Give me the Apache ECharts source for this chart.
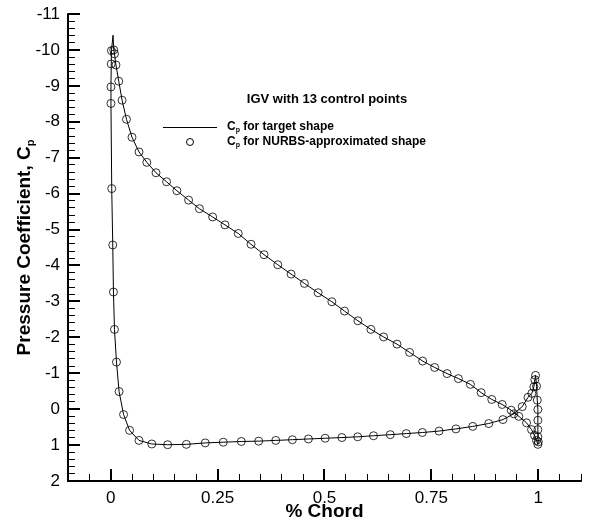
<!DOCTYPE html>
<html>
<head>
<meta charset="utf-8">
<script src="https://cdn.jsdelivr.net/npm/echarts@6/dist/echarts.min.js"></script>
<style>
html, body { margin: 0; padding: 0; background: #fff; }
#main { width: 589px; height: 527px; }
</style>
</head>
<body>
<div id="main"></div>
<script>
var myChart = echarts.init(document.getElementById('main'));

// upper (suction) surface, leading edge -> trailing edge
var upperX = [0.0070, 0.0087, 0.0122, 0.0187, 0.0265, 0.0368, 0.0497, 0.0661, 0.0844, 0.1059,
    0.1305, 0.1547, 0.1821, 0.2074, 0.2383, 0.2672, 0.2983, 0.3281, 0.3586, 0.3907,
    0.4218, 0.4530, 0.4851, 0.5172, 0.5468, 0.5782, 0.6086, 0.6382, 0.6696, 0.6991,
    0.7296, 0.7577, 0.7867, 0.8132, 0.8413, 0.8664, 0.8913, 0.9156, 0.9367, 0.9545,
    0.9726, 0.9843, 0.9913, 0.9960, 0.9991];
var upperCp = [-10.0, -9.89, -9.58, -9.13, -8.60, -8.07, -7.57, -7.16, -6.87, -6.58,
    -6.33, -6.08, -5.82, -5.58, -5.35, -5.13, -4.89, -4.59, -4.30, -4.02,
    -3.76, -3.50, -3.24, -2.99, -2.73, -2.46, -2.22, -2.01, -1.81, -1.58,
    -1.34, -1.16, -0.99, -0.85, -0.69, -0.46, -0.27, -0.13, 0.03, 0.20,
    0.38, 0.57, 0.73, 0.87, 0.98];

// lower (pressure) surface, leading edge -> trailing edge
var lowerX = [0.0016, 0.0012, 0.0005, 0.0005, 0.0023, 0.0047, 0.0063, 0.0087, 0.0134, 0.0195,
    0.0300, 0.0441, 0.0661, 0.0961, 0.1331, 0.1769, 0.2210, 0.2632, 0.3054, 0.3461,
    0.3860, 0.4249, 0.4624, 0.5015, 0.5407, 0.5777, 0.6147, 0.6539, 0.6913, 0.7289,
    0.7680, 0.8074, 0.8468, 0.8842, 0.9175, 0.9428, 0.9625, 0.9761, 0.9850, 0.9897,
    0.9920, 0.9937];
var lowerCp = [-9.98, -9.61, -8.97, -8.51, -6.14, -4.57, -3.26, -2.22, -1.31, -0.49,
    0.15, 0.59, 0.87, 0.97, 0.99, 0.98, 0.94, 0.92, 0.90, 0.89,
    0.87, 0.85, 0.83, 0.81, 0.79, 0.77, 0.74, 0.71, 0.68, 0.65,
    0.61, 0.55, 0.48, 0.40, 0.29, 0.13, -0.07, -0.33, -0.44, -0.62,
    -0.82, -0.94];

// trailing edge, top -> bottom
var teX = [0.9960, 0.9977, 0.9991, 0.9991, 0.9991, 0.9991, 1.0];
var teCp = [-0.64, -0.25, 0.01, 0.31, 0.57, 0.77, 0.91];

// suction peak of the target curve
var peakX = 0.0054;
var peakCp = -10.41;

var xRange = [-0.1, 1.1];
var yRange = [-11, 2];
var xMajor = [0, 0.25, 0.5, 0.75, 1];
var xMinor = [-0.05, 0.05, 0.1, 0.15, 0.2, 0.3, 0.35, 0.4, 0.45, 0.55, 0.6, 0.65, 0.7,
    0.8, 0.85, 0.9, 0.95, 1.05, 1.1];
var yMajor = [-11, -10, -9, -8, -7, -6, -5, -4, -3, -2, -1, 0, 1, 2];
var ySubdiv = 5;

function pairs(xs, ys) {
    var out = [];
    for (var i = 0; i < xs.length; i++) out.push([xs[i], ys[i]]);
    return out;
}

// target line: lower surface, trailing edge, upper surface back, peak, close
var lineData = pairs(lowerX, lowerCp)
    .concat(pairs(teX, teCp))
    .concat(pairs(upperX, upperCp).reverse())
    .concat([[peakX, peakCp], [lowerX[0], lowerCp[0]]]);
var pointData = pairs(upperX, upperCp).concat(pairs(lowerX, lowerCp)).concat(pairs(teX, teCp));

var FONT = '"Liberation Sans", Arial, sans-serif';
var tickLabel = { fontFamily: FONT, fontSize: 17, color: '#000' };
var legendRich = { sub: { fontFamily: FONT, fontWeight: 'bold', fontSize: 7, fill: '#000', verticalAlign: 'bottom', lineHeight: 8 } };
var black2 = { color: '#000', width: 2 };

// plot box
var L = 68, R = 8, T = 14, B = 46;
var W = 589 - L - R, H = 527 - T - B;

var option = {
    animation: false,
    backgroundColor: '#fff',
    grid: { left: L, right: R, top: T, bottom: B, outerBoundsMode: 'none', containLabel: false },
    xAxis: {
        type: 'value',
        min: xRange[0],
        max: xRange[1],
        name: '% Chord',
        nameLocation: 'middle',
        nameGap: 21,
        nameMoveOverlap: false,
        nameTextStyle: { fontFamily: FONT, fontWeight: 'bold', fontSize: 19, color: '#000' },
        axisLine: { show: true, onZero: false, lineStyle: black2 },
        axisTick: { show: false },
        axisLabel: Object.assign({ customValues: xMajor, margin: 9 }, tickLabel),
        splitLine: { show: false }
    },
    yAxis: {
        type: 'value',
        inverse: true,
        min: yRange[0],
        max: yRange[1],
        interval: 1,
        name: 'Pressure Coefficient, C{sub|p}',
        nameLocation: 'middle',
        nameRotate: 90,
        nameGap: 32,
        nameMoveOverlap: false,
        nameTextStyle: {
            fontFamily: FONT, fontWeight: 'bold', fontSize: 19, color: '#000', lineHeight: 22,
            rich: { sub: { fontFamily: FONT, fontWeight: 'bold', fontSize: 11, color: '#000', verticalAlign: 'bottom', lineHeight: 12 } }
        },
        axisLine: { show: true, onZero: false, lineStyle: black2 },
        axisTick: { show: false },
        axisLabel: Object.assign({ margin: 8 }, tickLabel),
        splitLine: { show: false }
    },
    series: [
        {
            name: 'target',
            type: 'line',
            data: lineData,
            symbol: 'none',
            lineStyle: { color: '#000', width: 1 },
            z: 2
        },
        {
            name: 'nurbs',
            type: 'scatter',
            data: pointData,
            symbol: 'circle',
            symbolSize: 8,
            itemStyle: { color: 'rgba(0,0,0,0)', borderColor: '#000', borderWidth: 1 },
            z: 3
        }
    ]
};

myChart.setOption(option);

// legend block
var graphics = [
    {
        type: 'text',
        style: { x: 327, y: 99, text: 'IGV with 13 control points', align: 'center', verticalAlign: 'middle',
            fontFamily: FONT, fontWeight: 'bold', fontSize: 13, fill: '#000' }
    },
    {
        type: 'line',
        shape: { x1: 163, y1: 127.5, x2: 217, y2: 127.5 },
        style: { stroke: '#000', lineWidth: 1 }
    },
    {
        type: 'circle',
        shape: { cx: 190, cy: 142, r: 3.5 },
        style: { fill: 'none', stroke: '#000', lineWidth: 1 }
    },
    {
        type: 'text',
        style: { x: 227, y: 127, text: 'C{sub|p} for target shape', verticalAlign: 'middle',
            fontFamily: FONT, fontWeight: 'bold', fontSize: 12, fill: '#000', lineHeight: 14, rich: legendRich }
    },
    {
        type: 'text',
        style: { x: 227, y: 142, text: 'C{sub|p} for NURBS-approximated shape', verticalAlign: 'middle',
            fontFamily: FONT, fontWeight: 'bold', fontSize: 12, fill: '#000', lineHeight: 14, rich: legendRich }
    }
];

// inward ticks, mapped linearly over the grid box (same extents as the axes)
function crisp(v, w) {
    return w % 2 ? Math.round(v - 0.5) + 0.5 : Math.round(v);
}
function xPx(x) {
    return L + (x - xRange[0]) / (xRange[1] - xRange[0]) * W;
}
function yPx(y) {
    return T + (y - yRange[0]) / (yRange[1] - yRange[0]) * H;   // inverse axis: min at top
}
function tick(x1, y1, x2, y2, w) {
    graphics.push({ type: 'line', shape: { x1: x1, y1: y1, x2: x2, y2: y2 }, style: { stroke: '#000', lineWidth: w } });
}
var axisX = L, axisY = T + H;

yMajor.forEach(function (v, i) {
    var y = crisp(yPx(v), 2);
    tick(axisX, y, axisX + 12, y, 2);
    if (i < yMajor.length - 1) {
        for (var k = 1; k < ySubdiv; k++) {
            var vm = v + (yMajor[i + 1] - v) * k / ySubdiv;
            var ym = crisp(yPx(vm), 1);
            tick(axisX, ym, axisX + 7, ym, 1);
        }
    }
});
xMajor.forEach(function (v) {
    var x = crisp(xPx(v), 2);
    tick(x, axisY, x, axisY - 12, 2);
});
xMinor.forEach(function (v) {
    var x = crisp(xPx(v), 1);
    tick(x, axisY, x, axisY - 7, 1);
});

myChart.setOption({ graphic: graphics });
</script>
</body>
</html>
